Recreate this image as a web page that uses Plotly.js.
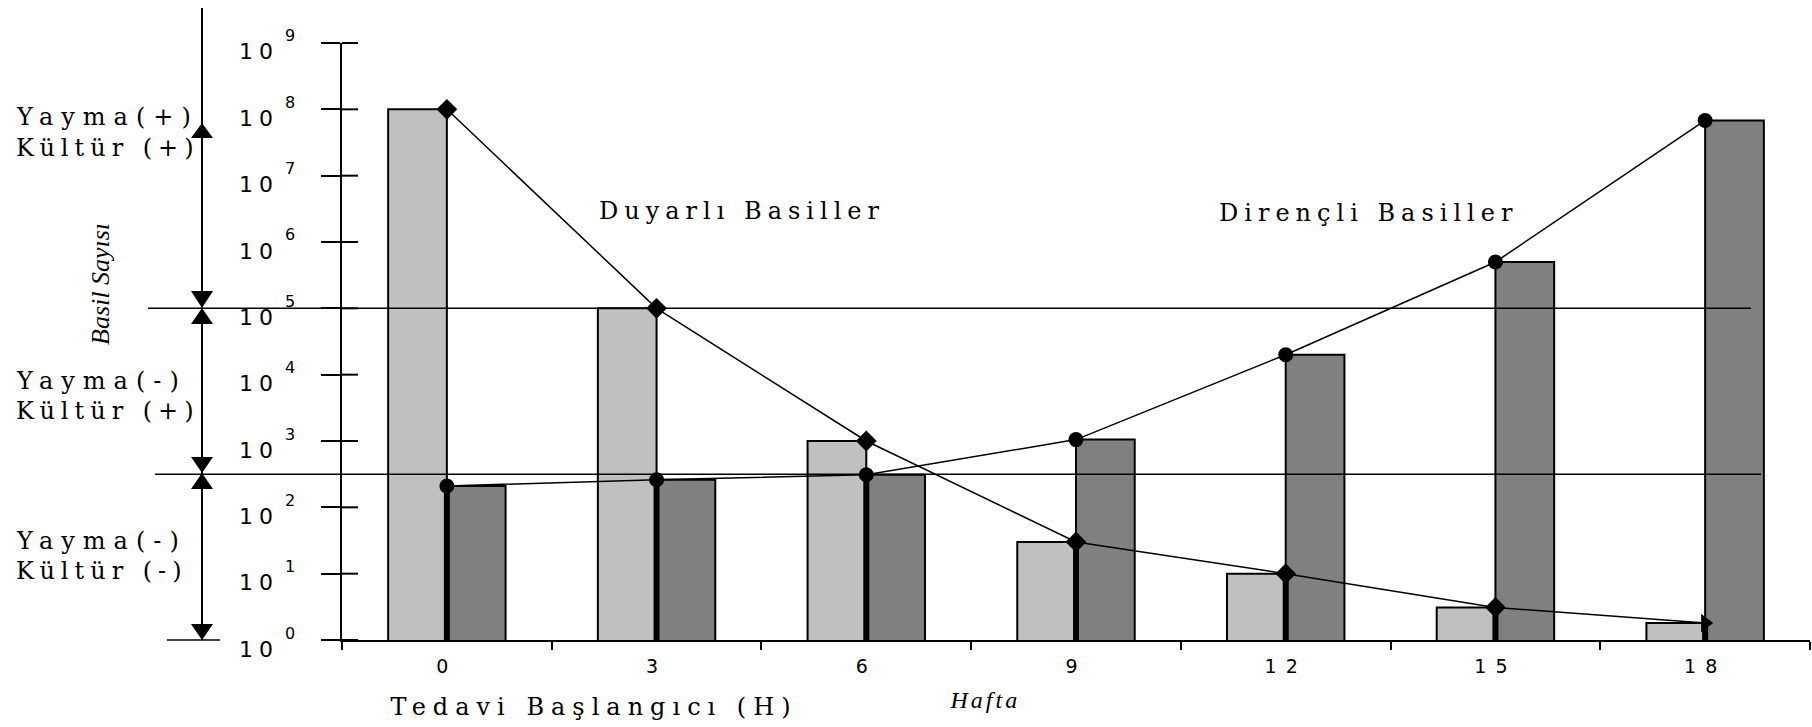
<!DOCTYPE html>
<html><head><meta charset="utf-8">
<script src="https://cdn.plot.ly/plotly-3.0.1.min.js"></script>
<style>
html,body{margin:0;padding:0;background:#fff}
.annotation-text{letter-spacing:6px}
.annotation[data-index="0"] .annotation-text,
.annotation[data-index="2"] .annotation-text,
.annotation[data-index="4"] .annotation-text{letter-spacing:8px}
.annotation[data-index="8"] .annotation-text{letter-spacing:7px}
.annotation[data-index="9"] .annotation-text{letter-spacing:3px}
.annotation[data-index="10"] .annotation-text{letter-spacing:0}
.xaxislayer-above text{letter-spacing:9px}
</style>
</head><body>
<div id="chart" style="width:1812px;height:727px"></div>
<script>
// ---- data ----
const weeks = ['0', '3', '6', '9', '12', '15', '18'];
const duyarli = [1e8, 1e5, 1e3, 30, 10, 3.1, 1.8];          // Duyarlı Basiller
const direncli = [210, 260, 310, 1050, 2e4, 5e5, 6.8e7];    // Dirençli Basiller
const yTickVals = [1, 10, 100, 1e3, 1e4, 1e5, 1e6, 1e7, 1e8, 1e9];
const yTickBase = '10';
const yTickExps = ['0', '1', '2', '3', '4', '5', '6', '7', '8', '9'];
const thresholds = [1e5, 316];
const zoneLabels = [['Yayma(+)', 'Kültür (+)'], ['Yayma(-)', 'Kültür (+)'], ['Yayma(-)', 'Kültür (-)']];
const seriesLabels = ['Duyarlı Basiller', 'Dirençli Basiller'];
const yTitle = 'Basil Sayısı';
const xTitle = 'Hafta';
const xStartLabel = 'Tedavi Başlangıcı (H)';

// ---- geometry helpers ----
const L = 342, R = 1810, T = 43, B = 640;
const px = x => (x - L) / (R - L);
const py = y => (B - y) / (B - T);
const ly = v => Math.log10(v) / 9;
const lyPix = v => B - ly(v) * (B - T);

const serif = 'DejaVu Serif, Liberation Serif, serif';
const sans = 'DejaVu Sans, Liberation Sans, sans-serif';

// drop lines from baseline up to the lower of the two values
const dropX = [], dropY = [];
weeks.forEach((w, i) => { dropX.push(w, w, null); dropY.push(1, Math.min(duyarli[i], direncli[i]), null); });

const traces = [
  {type: 'bar', x: weeks, y: duyarli, marker: {color: '#c0c0c0', line: {color: '#000', width: 2}}, hoverinfo: 'skip'},
  {type: 'bar', x: weeks, y: direncli, marker: {color: '#808080', line: {color: '#000', width: 2}}, hoverinfo: 'skip'},
  {type: 'scatter', mode: 'lines', x: dropX, y: dropY, line: {color: '#000', width: 6}, connectgaps: false, hoverinfo: 'skip'},
  {type: 'scatter', mode: 'lines+markers', x: weeks, y: duyarli, line: {color: '#000', width: 1.5},
   marker: {color: '#000', size: 16, symbol: weeks.map((w, i) => i === weeks.length - 1 ? 'triangle-right' : 'diamond')}, cliponaxis: false, hoverinfo: 'skip'},
  {type: 'scatter', mode: 'lines+markers', x: weeks, y: direncli, line: {color: '#000', width: 1.5},
   marker: {color: '#000', size: 15, symbol: 'circle'}, cliponaxis: false, hoverinfo: 'skip'}
];

const tri = (apex, base) => `M ${px(191)},${py(base)} L ${px(213)},${py(base)} L ${px(202)},${py(apex)} Z`;
const shapes = [
  {type: 'line', xref: 'paper', yref: 'paper', x0: px(148), x1: px(1751), y0: ly(thresholds[0]), y1: ly(thresholds[0]), line: {color: '#000', width: 1.5}},
  {type: 'line', xref: 'paper', yref: 'paper', x0: px(155), x1: px(1761), y0: ly(thresholds[1]), y1: ly(thresholds[1]), line: {color: '#000', width: 1.5}},
  {type: 'line', xref: 'paper', yref: 'paper', x0: px(202), x1: px(202), y0: py(8), y1: py(640), line: {color: '#000', width: 2}},
  {type: 'line', xref: 'paper', yref: 'paper', x0: px(167), x1: px(220), y0: py(640), y1: py(640), line: {color: '#000', width: 1.5}},
  {type: 'path', xref: 'paper', yref: 'paper', path: tri(123, 138), fillcolor: '#000', line: {width: 0}},
  {type: 'path', xref: 'paper', yref: 'paper', path: tri(308, 291), fillcolor: '#000', line: {width: 0}},
  {type: 'path', xref: 'paper', yref: 'paper', path: tri(308, 324), fillcolor: '#000', line: {width: 0}},
  {type: 'path', xref: 'paper', yref: 'paper', path: tri(473, 457), fillcolor: '#000', line: {width: 0}},
  {type: 'path', xref: 'paper', yref: 'paper', path: tri(473, 489), fillcolor: '#000', line: {width: 0}},
  {type: 'path', xref: 'paper', yref: 'paper', path: tri(640, 624), fillcolor: '#000', line: {width: 0}}
];
// inner half of the crossing y ticks
yTickVals.forEach(v => shapes.push({type: 'line', xref: 'paper', yref: 'paper', x0: px(342), x1: px(358), y0: ly(v), y1: ly(v), line: {color: '#000', width: 2}}));

const ann = (text, x, y, opts) => Object.assign({text, xref: 'paper', yref: 'paper', x: px(x), y: py(y),
  showarrow: false, xanchor: 'center', yanchor: 'middle', font: {family: serif, size: 24, color: '#000'}}, opts || {});
const zoneY = [[117, 148], [381, 411], [541, 571]];
const annotations = [];
zoneLabels.forEach((pair, k) => {
  annotations.push(ann(pair[0], 14, zoneY[k][0], {xanchor: 'left', align: 'left'}));
  annotations.push(ann(pair[1], 14, zoneY[k][1], {xanchor: 'left', align: 'left'}));
});
annotations.push(ann(seriesLabels[0], 742, 211));
annotations.push(ann(seriesLabels[1], 1368, 213));
annotations.push(ann(xStartLabel, 594, 707));
annotations.push(ann(xTitle, 985, 700, {font: {family: 'Liberation Serif, serif', size: 24, style: 'italic', color: '#000'}}));
annotations.push(ann(yTitle, 100, 284, {textangle: -90, font: {family: 'Liberation Serif, serif', size: 26, style: 'italic', color: '#000'}}));
// y tick labels: "10" with raised exponent
yTickVals.forEach((v, i) => {
  const yp = lyPix(v);
  annotations.push(ann(yTickBase, 281, yp + 9, {xanchor: 'right', align: 'right', font: {family: sans, size: 22, color: '#000'}}));
  annotations.push(ann(yTickExps[i], 283, yp - 7, {xanchor: 'left', align: 'left', font: {family: sans, size: 16, color: '#000'}}));
});

const layout = {
  width: 1812, height: 727,
  margin: {l: L, r: 1812 - R, t: T, b: 727 - B, pad: 0},
  paper_bgcolor: '#fff', plot_bgcolor: '#fff',
  showlegend: false,
  barmode: 'group', bargap: 0.44, bargroupgap: 0,
  xaxis: {type: 'category', range: [-0.5, 6.5], tickson: 'boundaries', ticks: 'outside', ticklen: 8, tickwidth: 2, tickcolor: '#000',
    showline: true, linecolor: '#000', linewidth: 2, showgrid: false, zeroline: false,
    tickfont: {family: sans, size: 19, color: '#000'}, ticklabelstandoff: 8, fixedrange: true},
  yaxis: {type: 'log', range: [0, 9], tickvals: yTickVals, showticklabels: false,
    ticks: 'outside', ticklen: 19, tickwidth: 2, tickcolor: '#000',
    showline: true, linecolor: '#000', linewidth: 2, showgrid: false, zeroline: false, fixedrange: true},
  shapes, annotations
};

Plotly.newPlot('chart', traces, layout, {staticPlot: true, displayModeBar: false});
</script>
</body></html>
